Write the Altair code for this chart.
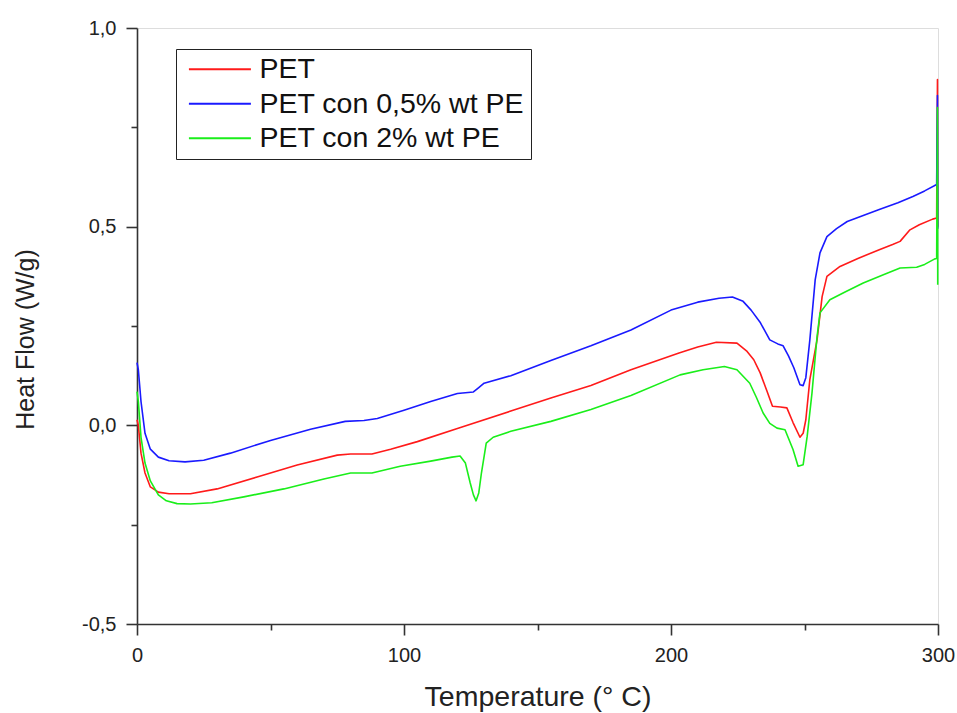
import altair as alt
import pandas as pd

# ---------------- data ----------------
series_names = ["PET", "PET con 0,5% wt PE", "PET con 2% wt PE"]
series_colors = ["#ff1a1a", "#1a1aff", "#1aee1a"]

t_pet = [0, 0.5, 1.5, 3, 5, 8, 12, 20, 30, 45, 60, 75, 80, 88, 95, 105, 120,
         140, 155, 170, 185, 203, 210, 217, 224.7, 228.5, 231, 233.4, 236, 238,
         241, 243.4, 245.7, 248.3, 249.5, 250.5, 252, 254.7, 256.6, 258.4, 263.3,
         270, 278, 283, 285.8, 289.5, 293, 298, 299.5, 299.8, 299.9]
v_pet = [0.014, 0.0, -0.07, -0.12, -0.155, -0.168, -0.172, -0.172, -0.16, -0.13,
         -0.1, -0.075, -0.072, -0.072, -0.06, -0.041, -0.008, 0.036, 0.069, 0.1,
         0.14, 0.182, 0.197, 0.209, 0.207, 0.186, 0.165, 0.132, 0.085, 0.048,
         0.046, 0.044, 0.007, -0.03, -0.02, 0.014, 0.115, 0.215, 0.324, 0.375,
         0.40, 0.42, 0.442, 0.455, 0.463, 0.492, 0.505, 0.519, 0.522, 0.87, 0.50]

t_pe05 = [0, 0.5, 1.5, 3, 5, 8, 12, 18, 25, 35, 50, 65, 78, 85, 90, 100, 110,
          120, 126, 128, 130, 140, 155, 170, 185, 200, 210, 218, 223, 227, 230,
          233.5, 237, 240, 242, 244, 246, 248.3, 249.5, 250.5, 252, 254, 255.8,
          258.4, 262, 266, 272, 278, 285, 290.6, 295, 299.5, 299.8, 299.9]
v_pe05 = [0.158, 0.14, 0.06, -0.02, -0.06, -0.08, -0.089, -0.092, -0.088, -0.07,
          -0.038, -0.01, 0.01, 0.012, 0.017, 0.038, 0.06, 0.08, 0.084, 0.095,
          0.106, 0.125, 0.163, 0.2, 0.24, 0.29, 0.31, 0.32, 0.323, 0.312, 0.29,
          0.258, 0.215, 0.205, 0.2, 0.175, 0.145, 0.102, 0.1, 0.12, 0.215, 0.366,
          0.434, 0.475, 0.495, 0.513, 0.528, 0.543, 0.56, 0.576, 0.59, 0.606,
          0.83, 0.495]

t_pe2 = [0, 0.5, 1.5, 3, 5, 8, 11, 15, 20, 28, 40, 55, 70, 80, 88, 98.6, 110,
         118, 121, 123, 124.8, 126, 127, 128, 129, 130.8, 133.4, 140, 155, 170,
         185, 203.4, 212, 220, 224.7, 229.5, 232, 234.5, 237, 239.7, 242.7,
         245.7, 247.6, 249.5, 251, 252.8, 254.7, 255.8, 259.5, 265, 272, 280,
         285.8, 292, 295, 298.8, 299.5, 299.8, 299.9]
v_pe2 = [0.085, 0.06, -0.03, -0.095, -0.14, -0.175, -0.19, -0.197, -0.198,
         -0.195, -0.18, -0.16, -0.135, -0.12, -0.12, -0.103, -0.09, -0.08,
         -0.077, -0.095, -0.145, -0.175, -0.19, -0.17, -0.12, -0.045, -0.03,
         -0.015, 0.01, 0.04, 0.075, 0.127, 0.14, 0.148, 0.14, 0.106, 0.07, 0.031,
         0.005, -0.007, -0.011, -0.061, -0.103, -0.099, -0.028, 0.081, 0.223,
         0.283, 0.316, 0.335, 0.358, 0.38, 0.396, 0.398, 0.405, 0.419, 0.42,
         0.80, 0.354]

x_ticks = [0, 50, 100, 150, 200, 250, 300]
y_ticks = [-0.5, -0.25, 0.0, 0.25, 0.5, 0.75, 1.0]

# ---------------- table ----------------
frames = []
for name, t, v in zip(series_names, [t_pet, t_pe05, t_pe2], [v_pet, v_pe05, v_pe2]):
    frames.append(pd.DataFrame({"T": t, "HF": v, "Serie": name,
                                "idx": range(len(t))}))
df = pd.concat(frames, ignore_index=True)

FONT = "Liberation Sans"
Y_MAJOR = "abs(datum.value*2 - round(datum.value*2)) < 0.001"

x_axis = alt.Axis(
    values=x_ticks,
    labelExpr="datum.value % 100 === 0 ? datum.label : ''",
    tickSize={"condition": {"test": "datum.value % 100 === 0", "value": 11}, "value": 6},
    title="Temperature (° C)",
    titleFontSize=28.5, titleFont=FONT, titleFontWeight="normal", titleColor="#222",
    titleBaseline="alphabetic", titleY=81,
    labelFontSize=20, labelFont=FONT, labelColor="#222", labelPadding=10,
    domainColor="#333", domainWidth=1.6, tickColor="#333", tickWidth=1.6,
    grid=False, labelFlush=False, labelOverlap=False,
)
y_axis = alt.Axis(
    values=y_ticks,
    labelExpr=Y_MAJOR + " ? (datum.value < 0 ? '-' : '') + replace(format(abs(datum.value), '.1f'), '.', ',') : ''",
    tickSize={"condition": {"test": Y_MAJOR, "value": 11}, "value": 6},
    title="Heat Flow (W/g)",
    titleFontSize=25, titleFont=FONT, titleFontWeight="normal", titleColor="#222",
    titleAngle=270, titleBaseline="alphabetic", titleAlign="center",
    titleX=-104, titleY=311,
    labelFontSize=20, labelFont=FONT, labelColor="#222", labelPadding=10,
    domainColor="#333", domainWidth=1.6, tickColor="#333", tickWidth=1.6,
    grid=False, labelFlush=False, labelOverlap=False,
)

chart = alt.Chart(df).mark_line(strokeWidth=1.6, strokeJoin="round").encode(
    x=alt.X("T:Q", scale=alt.Scale(domain=[0, 300], nice=False, zero=False), axis=x_axis),
    y=alt.Y("HF:Q", scale=alt.Scale(domain=[-0.5, 1.0], nice=False, zero=False), axis=y_axis),
    color=alt.Color(
        "Serie:N",
        scale=alt.Scale(domain=series_names, range=series_colors),
        legend=alt.Legend(
            orient="none", legendX=39, legendY=21, title=None,
            symbolType="M-1,0H5", symbolSize=427, symbolStrokeWidth=1.8,
            labelFontSize=28.5, labelFont=FONT, labelColor="#111", labelOffset=46,
            labelLimit=0, padding=6, rowPadding=5.5, symbolOffset=3,
            strokeColor="#222",
        ),
    ),
    order="idx:Q",
).properties(
    width=801, height=596,
    padding={"left": 137, "top": 28, "right": 19, "bottom": 89},
    autosize="none",
).configure_view(strokeWidth=0).configure_legend(strokeWidth=1.8).configure(background="white")

chart.save("out.html", embed_options={"renderer": "svg", "actions": False})
